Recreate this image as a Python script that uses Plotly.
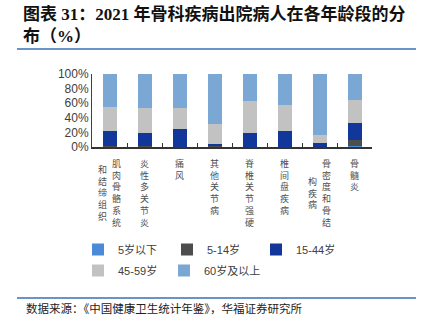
import plotly.graph_objects as go

categories = ["肌肉骨骼系统和结缔组织", "炎性多关节炎", "痛风", "其他关节病",
              "脊椎关节强硬", "椎间盘疾病", "骨密度和骨结构疾病", "骨髓炎"]
# label columns (right column first, as in the reference vertical text)
label_columns = [["肌肉骨骼系统", "和结缔组织"], ["炎性多关节炎"], ["痛风"], ["其他关节病"],
                 ["脊椎关节强硬"], ["椎间盘疾病"], ["骨密度和骨结", "构疾病"], ["骨髓炎"]]

series_names = ["5岁以下", "5-14岁", "15-44岁", "45-59岁", "60岁及以上"]
under5 = [0.3, 0.3, 0.1, 0.2, 0.1, 0.1, 0.1, 1.0]
age5_14 = [1.0, 0.9, 0.3, 0.6, 0.2, 0.3, 0.2, 8.5]
age15_44 = [20.2, 17.8, 23.6, 3.7, 18.7, 21.1, 4.7, 23.0]
age45_59 = [33.5, 35.0, 29.0, 27.0, 44.5, 36.0, 11.5, 32.5]
age60 = [45.0, 46.0, 47.0, 68.5, 36.5, 42.5, 83.5, 35.0]
series_values = [under5, age5_14, age15_44, age45_59, age60]
colors = ["#4a8ad6", "#4d4d4d", "#12379b", "#c2c2c2", "#7ba7d4"]
legend_ids = ["legend", "legend", "legend", "legend2", "legend3"]

y_ticks = [0, 20, 40, 60, 80, 100]
y_tick_text = ["0%", "20%", "40%", "60%", "80%", "100%"]

W, H = 424, 321
L, R, T, B = 92, 52, 74, 174
PW, PH = W - L - R, H - T - B


def px_x(px):
    return (px - L) / PW


def px_y(py):
    return (H - B - py) / PH


fig = go.Figure()
for name, vals, col, lg in zip(series_names, series_values, colors, legend_ids):
    fig.add_trace(go.Bar(x=categories, y=vals, name=name, marker_color=col,
                         marker_line_width=0, width=0.4, legend=lg))

leg_font = dict(size=11, color="#404040", family="Liberation Sans, Arial, Noto Sans CJK SC")
leg_common = dict(orientation="h", xanchor="left", yanchor="top",
                  entrywidthmode="pixels", traceorder="normal",
                  font=leg_font, itemwidth=30, bgcolor="rgba(0,0,0,0)")

fig.update_layout(
    width=W, height=H, barmode="stack",
    margin=dict(l=L, r=R, t=T, b=B, pad=0),
    paper_bgcolor="white", plot_bgcolor="white",
    font=dict(family="Liberation Sans, Arial, Noto Sans CJK SC", color="#404040", size=12),
    showlegend=True,
    legend=dict(x=px_x(78), y=px_y(235), entrywidth=44, **leg_common),
    legend2=dict(x=px_x(78), y=px_y(256), entrywidth=80, **leg_common),
    legend3=dict(x=px_x(164), y=px_y(256), entrywidth=90, **leg_common),
)
fig.update_yaxes(range=[0, 100], tickvals=y_ticks, ticktext=y_tick_text, showgrid=False,
                 showline=True, linecolor="#404040", linewidth=1, ticks="",
                 zeroline=False, tickfont=dict(size=12, color="#404040"))
fig.update_xaxes(showline=True, linecolor="#333333", linewidth=1.5, ticks="inside",
                 tickson="boundaries", ticklen=4, tickcolor="#333333",
                 showticklabels=False, showgrid=False)

# vertical category labels
lab_size = 9
pitch = lab_size * 1.3
for cat, cols in zip(categories, label_columns):
    nmax = max(len(c) for c in cols)
    ncol = len(cols)
    for i, col in enumerate(cols):
        if ncol == 1:
            xs = 0
        else:
            xs = 7 if i == 0 else -7
        offset = (nmax - len(col)) / 2 * pitch
        fig.add_annotation(x=cat, y=0, xref="x", yref="y", text="<br>".join(col),
                           showarrow=False, xanchor="center", yanchor="top",
                           xshift=xs, yshift=-8 - offset,
                           font=dict(size=lab_size, color="#505050",
                                     family="Noto Sans CJK SC"))

# title
fig.add_annotation(xref="paper", yref="paper", x=px_x(21), y=px_y(2),
                   xanchor="left", yanchor="top", align="left", showarrow=False,
                   text="<b>图表 31：2021 年骨科疾病出院病人在各年龄段的分<br>布（%）</b>",
                   font=dict(size=17, color="#111111",
                             family="Liberation Serif, Noto Sans CJK SC"))
# source
fig.add_annotation(xref="paper", yref="paper", x=px_x(24), y=px_y(308),
                   xanchor="left", yanchor="middle", showarrow=False,
                   text="数据来源：《中国健康卫生统计年鉴》，华福证券研究所",
                   font=dict(size=11.5, color="#222222", family="Noto Sans CJK SC"))

# separator lines
for py in (49, 298):
    fig.add_shape(type="line", xref="paper", yref="paper",
                  x0=px_x(17), x1=px_x(416), y0=px_y(py), y1=px_y(py),
                  line=dict(color="#6a93c8", width=2))

fig.write_html("out.html")
